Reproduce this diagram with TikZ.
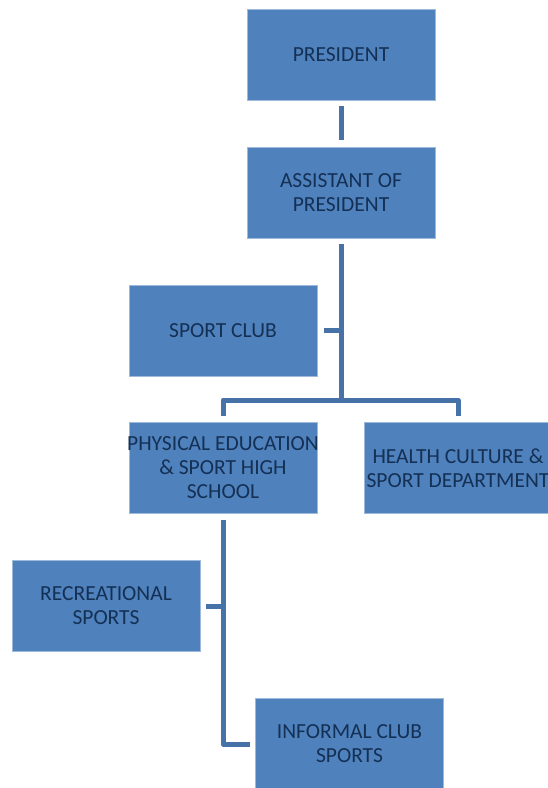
\documentclass[tikz,border=0pt]{standalone}
\usepackage{fontspec}
\setmainfont{Carlito}
\usepackage{xcolor}
\usetikzlibrary{positioning}
\definecolor{boxblue}{RGB}{79,129,189}
\definecolor{lineblue}{RGB}{70,114,168}
\definecolor{textnavy}{RGB}{20,48,84}

\begin{document}
\begin{tikzpicture}[x=1pt,y=-1pt,
  unit/.style={fill=boxblue,draw=boxblue!55!white,line width=.6pt,
    minimum width=188pt,minimum height=91pt,inner ysep=0pt,inner xsep=-3pt,
    align=center,text=textnavy,font=\fontsize{21.5}{24}\selectfont},
  link/.style={draw=lineblue,line width=5pt,line join=round}]
\useasboundingbox (0,0) rectangle (548,788);
  % boxes
  \node[unit] (pres) at (341,54.5) {PRESIDENT};
  \node[unit] (assist) at (341,192.5) {ASSISTANT OF\\PRESIDENT};
  \node[unit] (club) at (223,330.5) {SPORT CLUB};
  \node[unit] (pe) at (223,468) {PHYSICAL EDUCATION\\\& SPORT HIGH\\SCHOOL};
  \node[unit] (health) at (458,468) {HEALTH CULTURE \&\\SPORT DEPARTMENT};
  \node[unit] (rec) at (106,606) {RECREATIONAL\\SPORTS};
  \node[unit] (informal) at (349.5,744) {INFORMAL CLUB\\SPORTS};
  \coordinate (hub) at (341,400);
  % links
  \draw[link,shorten <=6pt,shorten >=7pt] (pres.south) -- (assist.north);
  \draw[link,shorten <=6pt] (assist.south) -- (hub);
  \draw[link,shorten <=7pt] (club.east) -- (club.east -| hub);
  \draw[link,shorten >=6pt] (hub) -| (pe.north);
  \draw[link,shorten >=6pt] (hub) -| (health.north);
  \draw[link,shorten <=6pt,shorten >=5pt] (pe.south) |- (informal.west);
  \draw[link,shorten <=6pt] (rec.east) -- (rec.east -| pe.south);
\end{tikzpicture}
\end{document}
